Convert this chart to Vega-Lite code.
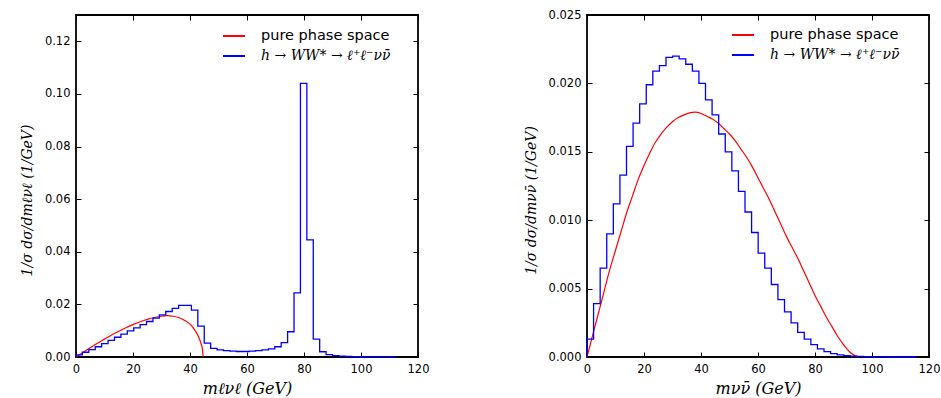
{
  "$schema": "https://vega.github.io/schema/vega-lite/v6.json",
  "autosize": {"type": "pad"},
  "padding": {"left": 19, "top": 8, "right": 5, "bottom": 0},
  "spacing": 169,
  "bounds": "flush",
  "resolve": {"scale": {"color": "independent"}, "legend": {"color": "independent"}},
  "config": {
    "view": {"stroke": "black", "strokeWidth": 1.8},
    "axis": {
      "grid": false, "domain": false, "labelFlush": false, "labelOverlap": false,
      "tickColor": "black", "tickSize": -5, "tickWidth": 1,
      "labelFont": "DejaVu Sans", "labelFontSize": 11.5, "labelColor": "black", "labelPadding": 11,
      "titleFont": "DejaVu Serif", "titleFontStyle": "italic", "titleFontWeight": "normal",
      "titleFontSize": 16, "titleColor": "black"
    },
    "axisX": {"titlePadding": 6},
    "axisY": {"titlePadding": 10, "titleFontSize": 14, "titleY": 185},
    "legend": {
      "title": null, "orient": "none", "symbolType": "stroke", "symbolSize": 484,
      "symbolStrokeWidth": 2, "labelFont": "DejaVu Sans", "labelFontSize": 14.5,
      "labelColor": "black", "labelOffset": 15, "rowPadding": 1, "labelLimit": 400
    }
  },
  "datasets": {
    "leftHist": [
      {"m": 0, "v": 0},
      {"m": 0, "v": 0.0008}, {"m": 2.25, "v": 0.0018}, {"m": 4.5, "v": 0.0028}, {"m": 6.75, "v": 0.0039},
      {"m": 9, "v": 0.0051}, {"m": 11.25, "v": 0.0063}, {"m": 13.5, "v": 0.0075}, {"m": 15.75, "v": 0.0087},
      {"m": 18, "v": 0.0099}, {"m": 20.25, "v": 0.0111}, {"m": 22.5, "v": 0.0123}, {"m": 24.75, "v": 0.0135},
      {"m": 27, "v": 0.0148}, {"m": 29.25, "v": 0.016}, {"m": 31.5, "v": 0.0173}, {"m": 33.75, "v": 0.0185},
      {"m": 36, "v": 0.0196}, {"m": 38.25, "v": 0.0196}, {"m": 40.5, "v": 0.0178}, {"m": 42.75, "v": 0.0117},
      {"m": 45, "v": 0.0053}, {"m": 47.25, "v": 0.0033}, {"m": 49.5, "v": 0.0027}, {"m": 51.75, "v": 0.0024},
      {"m": 54, "v": 0.0022}, {"m": 56.25, "v": 0.0021}, {"m": 58.5, "v": 0.0021}, {"m": 60.75, "v": 0.0022},
      {"m": 63, "v": 0.0024}, {"m": 65.25, "v": 0.0027}, {"m": 67.5, "v": 0.0031}, {"m": 69.75, "v": 0.0039},
      {"m": 72, "v": 0.0055}, {"m": 74.25, "v": 0.0096}, {"m": 76.5, "v": 0.0244}, {"m": 78.75, "v": 0.104},
      {"m": 81, "v": 0.0445}, {"m": 83.25, "v": 0.0068}, {"m": 85.5, "v": 0.002}, {"m": 87.75, "v": 0.0009},
      {"m": 90, "v": 0.0005}, {"m": 92.25, "v": 0.0003}, {"m": 94.5, "v": 0.0002}, {"m": 96.75, "v": 0.0001},
      {"m": 99, "v": 0.0001}, {"m": 101.25, "v": 0.00005}, {"m": 103.5, "v": 0.00003}, {"m": 105.75, "v": 0.00002},
      {"m": 108, "v": 0.00001}, {"m": 110.25, "v": 0.00001},
      {"m": 112.5, "v": 0.00001}, {"m": 112.5, "v": 0}
    ],
    "leftPS": [
      {"m": 0, "v": 0}, {"m": 1, "v": 0.0007}, {"m": 2.5, "v": 0.00175}, {"m": 5, "v": 0.0035},
      {"m": 7.5, "v": 0.0052}, {"m": 10, "v": 0.0068}, {"m": 12.5, "v": 0.0084}, {"m": 15, "v": 0.0098},
      {"m": 17.5, "v": 0.0111}, {"m": 20, "v": 0.0123}, {"m": 22.5, "v": 0.0134}, {"m": 25, "v": 0.0143},
      {"m": 27.5, "v": 0.015}, {"m": 30, "v": 0.0155}, {"m": 32, "v": 0.0157}, {"m": 34, "v": 0.0155},
      {"m": 36, "v": 0.015}, {"m": 38, "v": 0.014}, {"m": 40, "v": 0.0125}, {"m": 41, "v": 0.0113},
      {"m": 42, "v": 0.0097}, {"m": 43, "v": 0.0077}, {"m": 44, "v": 0.0046}, {"m": 44.4, "v": 0.0028},
      {"m": 44.6, "v": 0}
    ],
    "rightHist": [
      {"m": 0, "v": 0},
      {"m": 0, "v": 0.0013}, {"m": 2.31, "v": 0.0039}, {"m": 4.62, "v": 0.0065}, {"m": 6.93, "v": 0.009},
      {"m": 9.24, "v": 0.0112}, {"m": 11.55, "v": 0.0133}, {"m": 13.86, "v": 0.0154}, {"m": 16.17, "v": 0.0171},
      {"m": 18.48, "v": 0.0185}, {"m": 20.79, "v": 0.0199}, {"m": 23.1, "v": 0.0209}, {"m": 25.41, "v": 0.0213},
      {"m": 27.72, "v": 0.0219}, {"m": 30.03, "v": 0.022}, {"m": 32.34, "v": 0.0218}, {"m": 34.65, "v": 0.0214},
      {"m": 36.96, "v": 0.0209}, {"m": 39.27, "v": 0.02}, {"m": 41.58, "v": 0.0188}, {"m": 43.89, "v": 0.0177},
      {"m": 46.2, "v": 0.0163}, {"m": 48.51, "v": 0.015}, {"m": 50.82, "v": 0.0136}, {"m": 53.13, "v": 0.0121},
      {"m": 55.44, "v": 0.0106}, {"m": 57.75, "v": 0.0091}, {"m": 60.06, "v": 0.0076}, {"m": 62.37, "v": 0.0065},
      {"m": 64.68, "v": 0.0053}, {"m": 66.99, "v": 0.0042}, {"m": 69.3, "v": 0.0033}, {"m": 71.61, "v": 0.0025},
      {"m": 73.92, "v": 0.0018}, {"m": 76.23, "v": 0.0013}, {"m": 78.54, "v": 0.0009}, {"m": 80.85, "v": 0.0006},
      {"m": 83.16, "v": 0.0004}, {"m": 85.47, "v": 0.00024}, {"m": 87.78, "v": 0.00015}, {"m": 90.09, "v": 0.0001},
      {"m": 92.4, "v": 0.00006}, {"m": 94.71, "v": 0.00004}, {"m": 97.02, "v": 0.00002}, {"m": 99.33, "v": 0.00001},
      {"m": 101.64, "v": 0.00001}, {"m": 103.95, "v": 0}, {"m": 106.26, "v": 0}, {"m": 108.57, "v": 0},
      {"m": 110.88, "v": 0}, {"m": 113.19, "v": 0},
      {"m": 115.5, "v": 0}, {"m": 115.5, "v": 0}
    ],
    "rightPS": [
      {"m": 0, "v": 0}, {"m": 2, "v": 0.0016}, {"m": 4, "v": 0.0032}, {"m": 6, "v": 0.0048},
      {"m": 8, "v": 0.0064}, {"m": 10, "v": 0.0078}, {"m": 12, "v": 0.0092}, {"m": 14, "v": 0.0106},
      {"m": 16, "v": 0.0118}, {"m": 18, "v": 0.013}, {"m": 20, "v": 0.014}, {"m": 22, "v": 0.0149},
      {"m": 24, "v": 0.0157}, {"m": 26, "v": 0.0163}, {"m": 28, "v": 0.0168}, {"m": 30, "v": 0.0172},
      {"m": 32, "v": 0.0175}, {"m": 34, "v": 0.0177}, {"m": 36, "v": 0.01785}, {"m": 38, "v": 0.0179},
      {"m": 40, "v": 0.0178}, {"m": 42, "v": 0.0176}, {"m": 44, "v": 0.0174}, {"m": 46, "v": 0.0171},
      {"m": 48, "v": 0.0167}, {"m": 50, "v": 0.0163}, {"m": 52, "v": 0.0158}, {"m": 54, "v": 0.0152},
      {"m": 56, "v": 0.0146}, {"m": 58, "v": 0.0139}, {"m": 60, "v": 0.0131}, {"m": 62, "v": 0.0123},
      {"m": 64, "v": 0.0115}, {"m": 66, "v": 0.0106}, {"m": 68, "v": 0.0097}, {"m": 70, "v": 0.0088},
      {"m": 72, "v": 0.008}, {"m": 74, "v": 0.0072}, {"m": 76, "v": 0.0063}, {"m": 78, "v": 0.0054},
      {"m": 80, "v": 0.0045}, {"m": 82, "v": 0.0037}, {"m": 84, "v": 0.0029}, {"m": 86, "v": 0.0022},
      {"m": 88, "v": 0.0015}, {"m": 90, "v": 0.0009}, {"m": 92, "v": 0.0004}, {"m": 94, "v": 0.0001},
      {"m": 95.5, "v": 0}
    ]
  },
  "hconcat": [
    {
      "width": 342, "height": 342,
      "layer": [
        {
          "data": {"name": "leftPS"},
          "mark": {"type": "line", "interpolate": "monotone", "strokeWidth": 1.2},
          "encoding": {
            "x": {"field": "m", "type": "quantitative", "scale": {"domain": [0, 120], "nice": false, "zero": false},
                  "axis": {"orient": "bottom", "values": [0, 20, 40, 60, 80, 100, 120], "title": "mℓνℓ (GeV)"}},
            "y": {"field": "v", "type": "quantitative", "scale": {"domain": [0, 0.13], "nice": false},
                  "axis": {"orient": "left", "values": [0, 0.02, 0.04, 0.06, 0.08, 0.1, 0.12], "format": ".2f", "title": "1/σ dσ/dmℓνℓ  (1/GeV)"}},
            "color": {"datum": "pure phase space", "type": "nominal",
                      "scale": {"domain": ["pure phase space", "h → WW* → ℓ⁺ℓ⁻νν̄"], "range": ["#ff0000", "#0000ff"]},
                      "legend": {"legendX": 146, "legendY": 9,
                        "encode": {"labels": {"update": {
                          "font": {"signal": "datum.label === 'pure phase space' ? 'DejaVu Sans' : 'DejaVu Serif'"},
                          "fontStyle": {"signal": "datum.label === 'pure phase space' ? 'normal' : 'italic'"},
                          "fontSize": {"signal": "datum.label === 'pure phase space' ? 14.5 : 14"}}}}}}
          }
        },
        {
          "data": {"name": "leftHist"},
          "mark": {"type": "line", "interpolate": "step-after", "strokeWidth": 1.3},
          "encoding": {
            "x": {"field": "m", "type": "quantitative", "axis": {"orient": "top", "labels": false, "title": null, "values": [0, 20, 40, 60, 80, 100, 120]}},
            "y": {"field": "v", "type": "quantitative", "axis": {"orient": "right", "labels": false, "title": null, "values": [0, 0.02, 0.04, 0.06, 0.08, 0.1, 0.12]}},
            "color": {"datum": "h → WW* → ℓ⁺ℓ⁻νν̄", "type": "nominal"},
            "order": {"value": null}
          }
        }
      ]
    },
    {
      "width": 342, "height": 342,
      "layer": [
        {
          "data": {"name": "rightPS"},
          "mark": {"type": "line", "interpolate": "monotone", "strokeWidth": 1.2},
          "encoding": {
            "x": {"field": "m", "type": "quantitative", "scale": {"domain": [0, 120], "nice": false, "zero": false},
                  "axis": {"orient": "bottom", "values": [0, 20, 40, 60, 80, 100, 120], "title": "mνν̄  (GeV)"}},
            "y": {"field": "v", "type": "quantitative", "scale": {"domain": [0, 0.025], "nice": false},
                  "axis": {"orient": "left", "values": [0, 0.005, 0.01, 0.015, 0.02, 0.025], "format": ".3f", "title": "1/σ dσ/dmνν̄  (1/GeV)"}},
            "color": {"datum": "pure phase space", "type": "nominal",
                      "scale": {"domain": ["pure phase space", "h → WW* → ℓ⁺ℓ⁻νν̄"], "range": ["#ff0000", "#0000ff"]},
                      "legend": {"legendX": 144, "legendY": 8,
                        "encode": {"labels": {"update": {
                          "font": {"signal": "datum.label === 'pure phase space' ? 'DejaVu Sans' : 'DejaVu Serif'"},
                          "fontStyle": {"signal": "datum.label === 'pure phase space' ? 'normal' : 'italic'"},
                          "fontSize": {"signal": "datum.label === 'pure phase space' ? 14.5 : 14"}}}}}}
          }
        },
        {
          "data": {"name": "rightHist"},
          "mark": {"type": "line", "interpolate": "step-after", "strokeWidth": 1.3},
          "encoding": {
            "x": {"field": "m", "type": "quantitative", "axis": {"orient": "top", "labels": false, "title": null, "values": [0, 20, 40, 60, 80, 100, 120]}},
            "y": {"field": "v", "type": "quantitative", "axis": {"orient": "right", "labels": false, "title": null, "values": [0, 0.005, 0.01, 0.015, 0.02, 0.025]}},
            "color": {"datum": "h → WW* → ℓ⁺ℓ⁻νν̄", "type": "nominal"},
            "order": {"value": null}
          }
        }
      ]
    }
  ]
}
